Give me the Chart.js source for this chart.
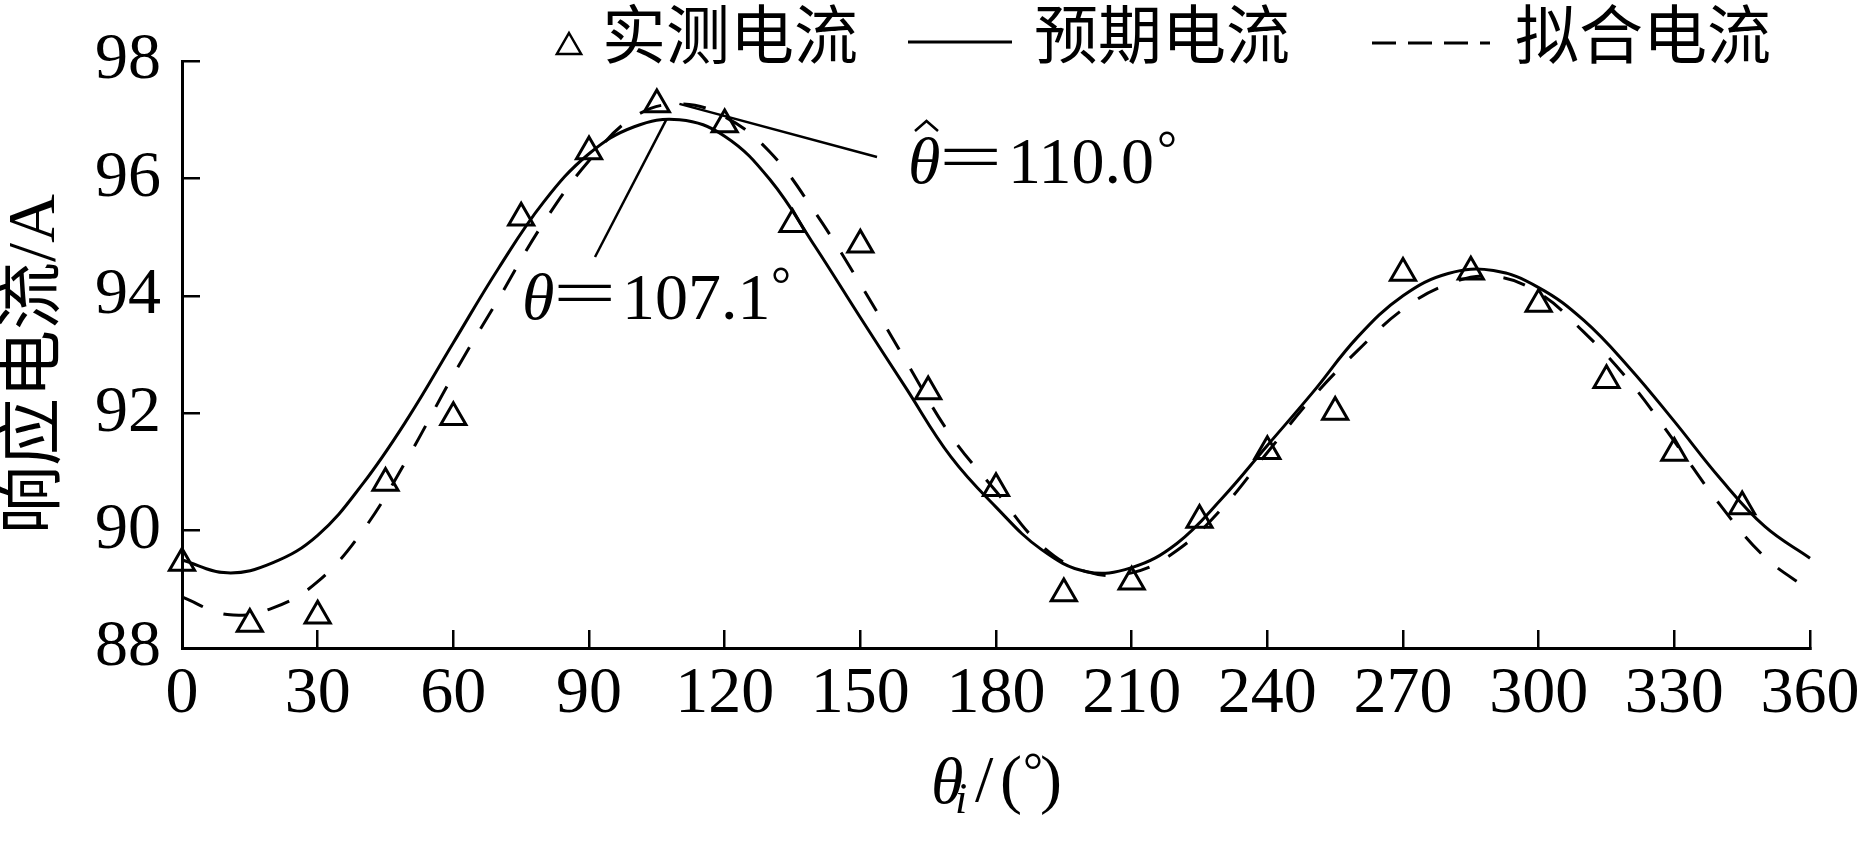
<!DOCTYPE html>
<html>
<head>
<meta charset="utf-8">
<script src="https://cdn.jsdelivr.net/npm/chart.js@4.4.1/dist/chart.umd.min.js"></script>
<style>
  html, body { margin: 0; padding: 0; background: #fff; }
  #wrap { width: 1861px; height: 847px; }
</style>
</head>
<body>
<div id="wrap"><canvas id="c" width="1861" height="847"></canvas></div>
<script>
// measured points (triangles)
const measAngles  = [0, 15, 30, 45, 60, 75, 90, 105, 120, 135, 150, 165, 180, 195, 210, 225, 240, 255, 270, 285, 300, 315, 330, 345];
const measCurrent = [89.45, 88.41, 88.55, 90.81, 91.93, 95.33, 96.46, 97.26, 96.92, 95.22, 94.87, 92.37, 90.72, 88.93, 89.13, 90.18, 91.35, 92.02, 94.39, 94.41, 93.86, 92.56, 91.32, 90.41];

// curves every 10 degrees
const curveAngles     = [0, 10, 20, 30, 40, 50, 60, 70, 80, 90, 100, 110, 120, 130, 140, 150, 160, 170, 180, 190, 200, 210, 220, 230, 240, 250, 260, 270, 280, 290, 300, 310, 320, 330, 340, 350, 360];
const expectedCurrent = [89.50, 89.28, 89.45, 89.92, 90.80, 91.92, 93.20, 94.47, 95.60, 96.42, 96.88, 97.00, 96.72, 95.98, 94.84, 93.63, 92.44, 91.26, 90.40, 89.68, 89.30, 89.37, 89.78, 90.55, 91.45, 92.35, 93.30, 94.00, 94.38, 94.43, 94.14, 93.58, 92.78, 91.86, 90.90, 90.07, 89.53];
const fittedCurrent   = [88.87, 88.57, 88.68, 89.13, 90.00, 91.25, 92.65, 93.95, 95.25, 96.30, 97.05, 97.27, 97.05, 96.45, 95.42, 94.20, 92.90, 91.62, 90.67, 89.75, 89.30, 89.28, 89.66, 90.38, 91.33, 92.27, 93.07, 93.77, 94.20, 94.33, 94.05, 93.38, 92.55, 91.52, 90.45, 89.55, 88.98];

const xTicks = [0, 30, 60, 90, 120, 150, 180, 210, 240, 270, 300, 330, 360];
const yTicks = [88, 90, 92, 94, 96, 98];

const legendLabels = ['实测电流', '预期电流', '拟合电流'];
const yTitle = '响应电流/A';
const peakExpected = { angle: 107.1, current: 97.0, text: '107.1' };
const peakFitted   = { angle: 110.0, current: 97.27, text: '110.0' };

const SERIF = "'Liberation Serif', 'Times New Roman', serif";
const CJK = "'Noto Sans CJK SC', sans-serif";

function drawTheta(ctx, x, base, hat, value) {
  ctx.font = 'italic 66px ' + SERIF;
  ctx.fillText('θ', x, base);
  if (hat) {
    ctx.beginPath();
    ctx.moveTo(x + 7, base - 52);
    ctx.lineTo(x + 18.5, base - 62);
    ctx.lineTo(x + 30, base - 52);
    ctx.lineWidth = 2.5;
    ctx.stroke();
  }
  ctx.font = '66px ' + SERIF;
  ctx.save();
  ctx.translate(x + 31, base - 4);
  ctx.scale(1.7, 1);
  ctx.fillText('=', 0, 0);
  ctx.restore();
  ctx.fillText(value, x + 100, base);
  ctx.font = '50px ' + SERIF;
  ctx.fillText('°', x + 249, base - 18);
}

const overlay = {
  id: 'overlay',
  afterDraw(chart) {
    const { ctx, scales: { x, y } } = chart;
    ctx.save();
    ctx.fillStyle = '#000';
    ctx.strokeStyle = '#000';
    ctx.textBaseline = 'alphabetic';
    ctx.textAlign = 'left';

    // legend
    ctx.lineWidth = 2.5;
    const r = 14, tx = 569, ty = 47;
    ctx.beginPath();
    ctx.moveTo(tx, ty - r);
    ctx.lineTo(tx + r * 0.866, ty + r / 2);
    ctx.lineTo(tx - r * 0.866, ty + r / 2);
    ctx.closePath();
    ctx.stroke();
    ctx.lineWidth = 3;
    ctx.beginPath(); ctx.moveTo(908, 42); ctx.lineTo(1012, 42); ctx.stroke();
    ctx.setLineDash([24, 12]);
    ctx.beginPath(); ctx.moveTo(1372, 43); ctx.lineTo(1490, 43); ctx.stroke();
    ctx.setLineDash([]);
    ctx.font = '64px ' + CJK;
    ctx.textBaseline = 'middle';
    ctx.fillText(legendLabels[0], 602, 34);
    ctx.fillText(legendLabels[1], 1034, 34);
    ctx.fillText(legendLabels[2], 1515, 34);

    // y title
    ctx.save();
    ctx.translate(36, 364);
    ctx.rotate(-Math.PI / 2);
    ctx.textAlign = 'center';
    ctx.font = '68px ' + SERIF + ', ' + CJK;
    ctx.fillText(yTitle, 0, 0);
    ctx.restore();
    ctx.textBaseline = 'alphabetic';

    // x title: θi/(°)
    ctx.font = 'italic 66px ' + SERIF;
    ctx.fillText('θ', 931, 803);
    ctx.font = 'italic 44px ' + SERIF;
    ctx.fillText('i', 955, 813);
    ctx.font = '66px ' + SERIF;
    ctx.fillText('/', 975, 801);
    ctx.fillText('(', 1000, 801);
    ctx.fillText(')', 1040, 801);
    ctx.font = '50px ' + SERIF;
    ctx.fillText('°', 1023, 787);

    // leader lines from peaks
    ctx.lineWidth = 2.5;
    ctx.beginPath();
    ctx.moveTo(x.getPixelForValue(peakFitted.angle), y.getPixelForValue(peakFitted.current));
    ctx.lineTo(877, 157);
    ctx.stroke();
    ctx.beginPath();
    ctx.moveTo(x.getPixelForValue(peakExpected.angle), y.getPixelForValue(peakExpected.current));
    ctx.lineTo(595, 257);
    ctx.stroke();

    drawTheta(ctx, 908, 183, true, peakFitted.text);
    drawTheta(ctx, 522, 319, false, peakExpected.text);
    ctx.restore();
  }
};

const tickFont = { family: SERIF, size: 66 };

const chart = new Chart(document.getElementById('c'), {
  type: 'line',
  data: {
    datasets: [
      {
        label: legendLabels[0],
        data: measAngles.map((a, i) => ({ x: a, y: measCurrent[i] })),
        showLine: false,
        pointStyle: 'triangle',
        pointRadius: 14.5,
        pointBorderWidth: 3,
        pointBorderColor: '#000',
        pointBackgroundColor: 'rgba(0,0,0,0)',
        clip: false
      },
      {
        label: legendLabels[1],
        data: curveAngles.map((a, i) => ({ x: a, y: expectedCurrent[i] })),
        borderColor: '#000',
        borderWidth: 3,
        pointRadius: 0,
        fill: false,
        tension: 0.4,
        clip: false
      },
      {
        label: legendLabels[2],
        data: curveAngles.map((a, i) => ({ x: a, y: fittedCurrent[i] })),
        borderColor: '#000',
        borderWidth: 3,
        borderDash: [23, 22],
        pointRadius: 0,
        fill: false,
        tension: 0.4,
        clip: false
      }
    ]
  },
  options: {
    responsive: false,
    animation: false,
    devicePixelRatio: 1,
    layout: { padding: { top: 61, right: 51, left: 0, bottom: 0 } },
    plugins: { legend: { display: false }, tooltip: { enabled: false } },
    scales: {
      x: {
        type: 'linear',
        min: 0, max: 360,
        afterBuildTicks: s => { s.ticks = xTicks.map(v => ({ value: v })); },
        afterFit: s => { s.height = 199; s.paddingLeft = 0; s.paddingRight = 0; },
        grid: { drawOnChartArea: false, tickLength: -18, color: '#000', lineWidth: 2.5 },
        border: { color: '#000', width: 3 },
        ticks: { font: tickFont, color: '#000', padding: 25, maxRotation: 0, autoSkip: false }
      },
      y: {
        min: 88, max: 98,
        afterBuildTicks: s => { s.ticks = yTicks.map(v => ({ value: v })); },
        afterFit: s => { s.width = 182; s.paddingTop = 0; s.paddingBottom = 0; },
        grid: { drawOnChartArea: false, tickLength: -18, color: '#000', lineWidth: 2.5 },
        border: { color: '#000', width: 3 },
        ticks: { font: tickFont, color: '#000', padding: 39 }
      }
    }
  },
  plugins: [overlay]
});
</script>
</body>
</html>
